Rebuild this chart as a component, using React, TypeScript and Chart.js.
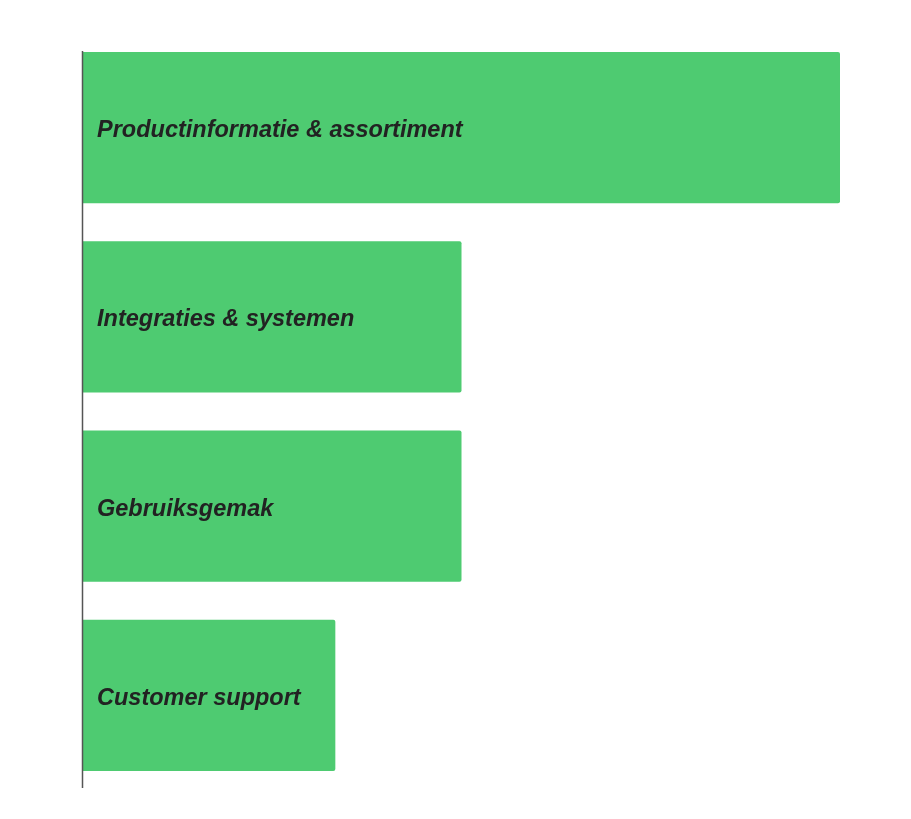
import React, { useEffect, useRef } from "react";
import { Chart, registerables } from "chart.js";

Chart.register(...registerables);

const categories = [
  "Productinformatie & assortiment",
  "Integraties & systemen",
  "Gebruiksgemak",
  "Customer support",
];
const values = [6, 3, 3, 2];
const barColor = "#4ECB71";

const labelPlugin = {
  id: "insideLabels",
  afterDatasetsDraw(chart: any) {
    const ctx = chart.ctx;
    const meta = chart.getDatasetMeta(0);
    ctx.save();
    ctx.font = "italic bold 23.5px 'Liberation Sans', Arial, sans-serif";
    ctx.fillStyle = "#222222";
    ctx.textAlign = "left";
    ctx.textBaseline = "middle";
    meta.data.forEach((bar: any, i: number) => {
      ctx.fillText(categories[i], chart.chartArea.left + 14, bar.y + 3);
    });
    ctx.restore();
  },
};

const axisPlugin = {
  id: "axisLine",
  afterDatasetsDraw(chart: any) {
    const ctx = chart.ctx;
    const { left, top, bottom } = chart.chartArea;
    ctx.save();
    ctx.strokeStyle = "#555555";
    ctx.lineWidth = 1.5;
    ctx.beginPath();
    ctx.moveTo(left - 0.5, top + 18);
    ctx.lineTo(left - 0.5, bottom - 2);
    ctx.stroke();
    ctx.restore();
  },
};

export default function App() {
  const ref = useRef<HTMLCanvasElement | null>(null);
  useEffect(() => {
    if (!ref.current) return;
    const chart = new Chart(ref.current, {
      type: "bar",
      data: {
        labels: categories,
        datasets: [
          {
            data: values,
            backgroundColor: barColor,
            borderRadius: 2,
            borderSkipped: "start",
            barPercentage: 0.8,
            categoryPercentage: 1,
          },
        ],
      },
      options: {
        indexAxis: "y",
        animation: false,
        responsive: true,
        maintainAspectRatio: false,
        layout: { padding: { left: 75, right: 63, top: 25, bottom: 21 } },
        plugins: {
          legend: { display: false },
          tooltip: { enabled: false },
        },
        scales: {
          x: { display: false, min: 0, max: 6 },
          y: { display: false },
        },
      },
      plugins: [labelPlugin, axisPlugin],
    });
    return () => chart.destroy();
  }, []);
  return (
    <div style={{ width: 895, height: 803, position: "relative" }}>
      <canvas ref={ref} />
    </div>
  );
}
